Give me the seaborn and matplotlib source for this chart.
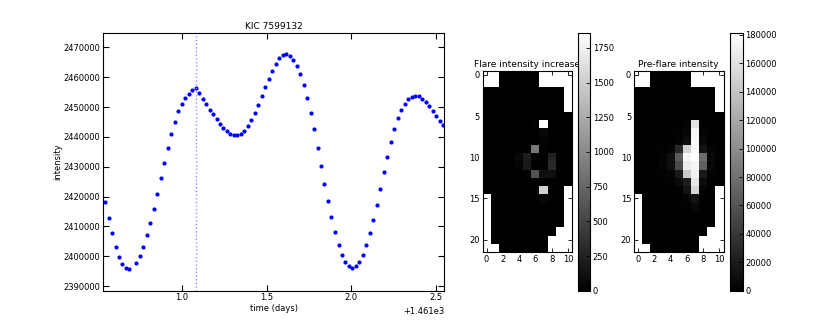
import numpy as np
import matplotlib
matplotlib.use("Agg")
import matplotlib.pyplot as plt
import matplotlib.ticker as mticker
import seaborn as sns

# light curve (time in days, flux in counts)
time_days = [
    1461.547, 1461.568, 1461.588, 1461.609, 1461.629, 1461.650, 1461.670, 1461.691,
    1461.732, 1461.753, 1461.773, 1461.794, 1461.814, 1461.835, 1461.855, 1461.876,
    1461.897, 1461.917, 1461.938, 1461.958, 1461.979, 1461.999,
    1462.020, 1462.040, 1462.061, 1462.082, 1462.102, 1462.123, 1462.143, 1462.164,
    1462.184, 1462.205, 1462.225, 1462.246, 1462.267, 1462.287, 1462.308, 1462.328,
    1462.349, 1462.369, 1462.390, 1462.411, 1462.431, 1462.452, 1462.472, 1462.493,
    1462.513, 1462.534, 1462.554, 1462.575, 1462.596, 1462.616, 1462.637, 1462.657,
    1462.678, 1462.698, 1462.719, 1462.740, 1462.760, 1462.781, 1462.801, 1462.822,
    1462.842, 1462.863, 1462.883, 1462.904, 1462.925, 1462.945, 1462.966, 1462.986,
    1463.007, 1463.027, 1463.048, 1463.069, 1463.089, 1463.110, 1463.130, 1463.151,
    1463.171, 1463.192, 1463.212, 1463.233, 1463.254, 1463.274, 1463.295, 1463.315,
    1463.336, 1463.356, 1463.377, 1463.398, 1463.418, 1463.439, 1463.459, 1463.480,
    1463.500, 1463.521, 1463.541,
]
intensity = [
    2418100, 2412750, 2407720, 2403260, 2399910, 2397460, 2396120, 2395890,
    2397680, 2400020, 2403150, 2407050, 2411300, 2415870, 2421000, 2426250,
    2431160, 2436300, 2440870, 2445110, 2448570, 2451030,
    2453150, 2454380, 2455600, 2456270, 2454710, 2452700, 2450920, 2449130,
    2447570, 2446000, 2444440, 2443100, 2441990, 2440870, 2440540, 2440540,
    2441090, 2441990, 2443550, 2445670, 2448010, 2450800, 2453590, 2456610,
    2459510, 2461960, 2464530, 2466320, 2467430, 2467660, 2466990, 2465760,
    2463860, 2460960, 2457500, 2452920, 2448130, 2442550, 2436410, 2430380,
    2424350, 2418660, 2413080, 2408060, 2403820, 2400580, 2398010, 2396670,
    2396230, 2396670, 2398010, 2400470, 2403710, 2407720, 2412190, 2417100,
    2422570, 2428150, 2433170, 2438190, 2442550, 2446230, 2449020, 2451140,
    2452590, 2453480, 2453820, 2453590, 2452810, 2451590, 2450250, 2448570,
    2446900, 2445340, 2444000,
]
flare_time = 1462.083

N = np.nan
# 22 x 11 pixel stamps, NaN = outside aperture
flare_increase = np.array([
    [N, N, 0, 0, 0, 0, 0, N, N, N, N],
    [N, N, 0, 0, 0, 0, 0, N, N, N, N],
    [0, 0, 0, 0, 0, 0, 0, 0, 0, 0, N],
    [0, 0, 0, 0, 0, 0, 0, 0, 0, 0, N],
    [0, 0, 0, 0, 0, 0, 0, 0, 0, 0, N],
    [0, 0, 0, 0, 0, 0, 0, 0, 0, 0, 0],
    [0, 0, 0, 0, 0, 0, 20, 1860, 0, 0, 0],
    [0, 0, 0, 0, 0, 0, 0, 60, 0, 0, 0],
    [0, 0, 0, 0, 0, 0, 10, 30, 0, 0, 0],
    [0, 0, 0, 0, 0, 20, 880, 20, 0, 0, 0],
    [0, 0, 0, 0, 60, 210, 30, 10, 240, 0, 0],
    [0, 0, 0, 0, 30, 180, 0, 20, 300, 0, 0],
    [0, 0, 0, 0, 0, 20, 600, 110, 110, 0, 0],
    [0, 0, 0, 0, 0, 0, 20, 0, 0, 0, 0],
    [0, 0, 0, 0, 0, 0, 10, 1520, 0, 0, N],
    [N, 0, 0, 0, 0, 0, 0, 60, 0, 0, N],
    [N, 0, 0, 0, 0, 0, 0, 0, 0, 0, N],
    [N, 0, 0, 0, 0, 0, 0, 0, 0, 0, N],
    [N, 0, 0, 0, 0, 0, 0, 0, 0, 0, N],
    [N, 0, 0, 0, 0, 0, 0, 0, 0, N, N],
    [N, 0, 0, 0, 0, 0, 0, 0, N, N, N],
    [N, N, 0, 0, 0, 0, 0, 0, N, N, N],
])
preflare_intensity = np.array([
    [N, N, 1000, 1000, 1000, 1000, 1000, N, N, N, N],
    [N, N, 1000, 1000, 1000, 1000, 1000, N, N, N, N],
    [1000, 1000, 1000, 1000, 1000, 1000, 1000, 1000, 1000, 1000, N],
    [1000, 1000, 1000, 1000, 1000, 1000, 1000, 1000, 1000, 1000, N],
    [1000, 1000, 1000, 1000, 1000, 1000, 1000, 1000, 1000, 1000, N],
    [1000, 1000, 1000, 1000, 1000, 1000, 1000, 1000, 1000, 1000, 1000],
    [1000, 1000, 1000, 1000, 1000, 1000, 3000, 160000, 2000, 1000, 1000],
    [1000, 1000, 1000, 1000, 1000, 2000, 5000, 175000, 3000, 1000, 1000],
    [1000, 1000, 1000, 1000, 2000, 3000, 10000, 178000, 6000, 1000, 1000],
    [1000, 1000, 1000, 2000, 4000, 28000, 150000, 178000, 14000, 3000, 1000],
    [1000, 1000, 1000, 3000, 11000, 64000, 175000, 181600, 78000, 7000, 1000],
    [1000, 1000, 1000, 3000, 11000, 53000, 168000, 175000, 68000, 5000, 1000],
    [1000, 1000, 1000, 2000, 4000, 18000, 143000, 171000, 18000, 2000, 1000],
    [1000, 1000, 1000, 1000, 2000, 7000, 21000, 164000, 8000, 1000, 1000],
    [1000, 1000, 1000, 1000, 1000, 2000, 14000, 153000, 3000, 1000, N],
    [N, 1000, 1000, 1000, 1000, 1000, 3000, 14000, 2000, 1000, N],
    [N, 1000, 1000, 1000, 1000, 1000, 1000, 6000, 1000, 1000, N],
    [N, 1000, 1000, 1000, 1000, 1000, 1000, 2000, 1000, 1000, N],
    [N, 1000, 1000, 1000, 1000, 1000, 1000, 1000, 1000, 1000, N],
    [N, 1000, 1000, 1000, 1000, 1000, 1000, 1000, 1000, N, N],
    [N, 1000, 1000, 1000, 1000, 1000, 1000, 1000, N, N, N],
    [N, N, 1000, 1000, 1000, 1000, 1000, 1000, N, N, N],
])
flare_ticks = [0, 250, 500, 750, 1000, 1250, 1500, 1750]
preflare_ticks = [0, 20000, 40000, 60000, 80000, 100000, 120000, 140000, 160000, 180000]
col_ticks = [0, 2, 4, 6, 8, 10]
row_ticks = [0, 5, 10, 15, 20]

plt.rcParams['font.family'] = ['DejaVu Sans']
plt.rcParams['axes.linewidth'] = 0.8
W, H = 830.0, 332.0

fig = plt.figure(figsize=(8.3, 3.32), dpi=100)

# light curve
ax = fig.add_axes([103.3 / W, (H - 290.7) / H, 341 / W, 258 / H])
sns.scatterplot(x=time_days, y=intensity, ax=ax, color='#0000ff', s=9, linewidth=0)
ax.axvline(flare_time, color='#8c8cff', ls=':', lw=1)
ax.set_xlim(1461.537, 1463.549)
ax.set_ylim(2388500, 2474900)
ax.set_xticks([1462.0, 1462.5, 1463.0, 1463.5])
ax.set_yticks(np.arange(2390000, 2470001, 10000))
ax.xaxis.set_major_formatter(mticker.ScalarFormatter(useOffset=1461.0))
yfmt = mticker.ScalarFormatter(useOffset=False)
yfmt.set_scientific(False)
ax.yaxis.set_major_formatter(yfmt)
ax.tick_params(direction='in', top=True, right=True, length=4, width=0.8, labelsize=6, pad=2)
ax.xaxis.get_offset_text().set_fontsize(6)
ax.set_xlabel('time (days)', fontsize=6, labelpad=1)
ax.set_ylabel('intensity', fontsize=6, labelpad=1)
ax.set_title('KIC 7599132', fontsize=6.5, pad=3)


def stamp(rect, cbar_rect, data, vmax, ticks, title):
    a = fig.add_axes(rect)
    cax = fig.add_axes(cbar_rect)
    sns.heatmap(data, mask=np.isnan(data), cmap='gray', vmin=0, vmax=vmax, ax=a,
                cbar_ax=cax, cbar_kws={'ticks': ticks}, xticklabels=False, yticklabels=False)
    a.set_xticks([c + 0.5 for c in col_ticks])
    a.set_xticklabels([str(c) for c in col_ticks])
    a.set_yticks([r + 0.5 for r in row_ticks])
    a.set_yticklabels([str(r) for r in row_ticks], rotation=0)
    for sp in a.spines.values():
        sp.set_visible(True)
        sp.set_linewidth(0.8)
        sp.set_color('black')
    a.tick_params(direction='in', top=True, right=True, length=3, width=0.6, labelsize=6, pad=2)
    a.set_title(title, fontsize=6.5, pad=3)
    cb = a.collections[0].colorbar
    cb.outline.set_linewidth(0.8)
    cb.outline.set_edgecolor('black')
    cax.tick_params(direction='in', length=3, width=0.6, labelsize=6, pad=2)


stamp([482.5 / W, (H - 252) / H, 89.5 / W, 181.3 / H], [578 / W, (H - 290.7) / H, 12 / W, 258 / H],
      flare_increase, 1860, flare_ticks, 'Flare intensity increase')
stamp([634 / W, (H - 252) / H, 89.5 / W, 181.3 / H], [730 / W, (H - 290.7) / H, 12.5 / W, 258 / H],
      preflare_intensity, 181600, preflare_ticks, 'Pre-flare intensity')

fig.savefig('out.png', dpi=100)
